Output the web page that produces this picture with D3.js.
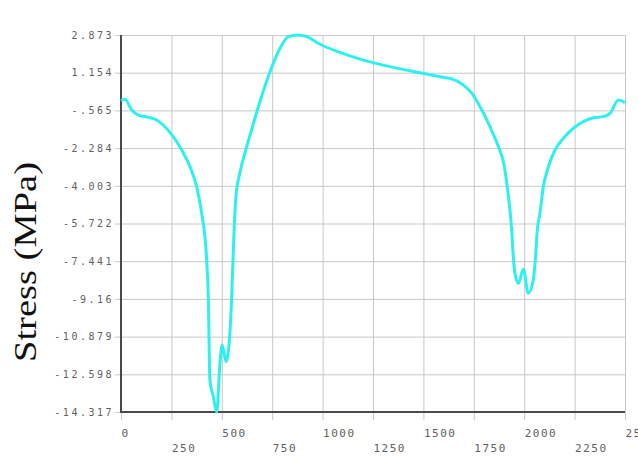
<!DOCTYPE html>
<html>
<head>
<meta charset="utf-8">
<script src="https://cdn.jsdelivr.net/npm/d3@7"></script>
<style>
body { margin: 0; background: #fff; }
</style>
</head>
<body>
<script>
//Width and height
var width = 638;
var height = 466;

//Tick values and their labels
var xTicks = [0, 250, 500, 750, 1000, 1250, 1500, 1750, 2000, 2250, 2500];
var yTicks = [2.873, 1.154, -0.565, -2.284, -4.003, -5.722, -7.441, -9.16, -10.879, -12.598, -14.317];
var yLabels = ["2.873", "1.154", "-.565", "-2.284", "-4.003", "-5.722", "-7.441", "-9.16", "-10.879", "-12.598", "-14.317"];

//Curve: distance and stress (MPa)
var distance = [0, 20, 53, 86, 135, 177, 218, 259, 301, 342, 375, 400, 425, 433, 441, 458, 475,
	491, 502, 521, 541, 549, 561, 570, 590, 615, 640, 689, 739, 789, 830, 878, 921, 987, 1086, 1202,
	1334, 1483, 1582, 1648, 1698, 1740, 1781, 1830, 1872, 1900, 1918, 1938, 1946, 1954, 1971,
	1996, 2020, 2045, 2054, 2065, 2078, 2095, 2120, 2153, 2194, 2244, 2293, 2343, 2392, 2426,
	2467, 2500];
var stress = [-0.12, -0.06, -0.55, -0.78, -0.88, -1.0, -1.31, -1.76, -2.37, -3.13, -4.04, -5.24, -7.39, -9.06, -12.86, -13.62, -14.317,
	-12.08, -11.26, -12.02, -10.58, -9.06, -6.02, -4.5, -3.4, -2.5, -1.69, -0.17, 1.2, 2.27, 2.8, 2.873, 2.8, 2.45, 2.08, 1.73,
	1.43, 1.15, 0.97, 0.85, 0.59, 0.22, -0.4, -1.31, -2.22, -3.05, -4.2, -6.02, -7.24, -7.98, -8.45,
	-7.81, -8.9, -8.3, -7.52, -6.02, -5.26, -4.04, -3.13, -2.37, -1.84, -1.38, -1.08, -0.9, -0.85, -0.7,
	-0.09, -0.21];

var plotLeft = 121, plotRight = 625, plotTop = 35, plotBottom = 412;

var svg = d3.select("body")
	.append("svg")
	.attr("width", width)
	.attr("height", height)
	.style("font-family", "'DejaVu Sans Mono', monospace");

var x = d3.scaleLinear().domain([0, 2500]).range([plotLeft, plotRight]);
var y = d3.scaleLinear().domain([-14.317, 2.873]).range([plotBottom, plotTop]);

//Horizontal grid + y labels
var yAxis = svg.append("g")
	.attr("transform", "translate(" + plotLeft + ",0)")
	.call(d3.axisLeft(y)
		.tickValues(yTicks)
		.tickSize(-(plotRight - plotLeft))
		.tickPadding(7)
		.tickFormat(function(d, i) { return yLabels[i]; }));
yAxis.select(".domain").remove();
yAxis.selectAll(".tick line")
	.attr("x1", -6)
	.attr("stroke", "#c8c8c8");
yAxis.selectAll(".tick text")
	.attr("fill", "#5f5f5f")
	.style("font-size", "10px")
	.style("letter-spacing", "2.5px")
	.style("font-family", "'DejaVu Sans Mono', monospace");

//Vertical grid + x labels (staggered)
var xAxis = svg.append("g")
	.attr("transform", "translate(0," + plotBottom + ")")
	.call(d3.axisBottom(x)
		.tickValues(xTicks)
		.tickSize(-(plotBottom - plotTop))
		.tickFormat(d3.format("d")));
xAxis.select(".domain").remove();
xAxis.selectAll(".tick line")
	.attr("y1", 8)
	.attr("stroke", "#c8c8c8");
xAxis.selectAll(".tick text")
	.attr("fill", "#5f5f5f")
	.attr("text-anchor", "start")
	.attr("x", 0)
	.attr("dy", null)
	.attr("y", function(d, i) { return i % 2 == 0 ? 25 : 40; })
	.style("font-size", "11px")
	.style("letter-spacing", "1.5px")
	.style("font-family", "'DejaVu Sans Mono', monospace");

//Dark axis lines
svg.append("path")
	.attr("d", "M" + plotLeft + "," + plotTop + "V" + plotBottom + "H" + plotRight)
	.attr("fill", "none")
	.attr("stroke", "#4a4a4a")
	.attr("stroke-width", 2);

//Stress curve
var line = d3.line()
	.x(function(d, i) { return x(distance[i]); })
	.y(function(d) { return y(d); })
	.curve(d3.curveMonotoneX);

svg.append("path")
	.datum(stress)
	.attr("d", line)
	.attr("fill", "none")
	.attr("stroke", "#2ef0ee")
	.attr("stroke-width", 3)
	.attr("stroke-linejoin", "round");

//Y axis title
svg.append("text")
	.attr("transform", "translate(36,262) rotate(-90)")
	.attr("text-anchor", "middle")
	.attr("textLength", 200)
	.attr("lengthAdjust", "spacingAndGlyphs")
	.style("font-family", "'Liberation Serif', serif")
	.style("font-size", "31px")
	.attr("fill", "#111")
	.text("Stress (MPa)");
</script>
</body>
</html>
